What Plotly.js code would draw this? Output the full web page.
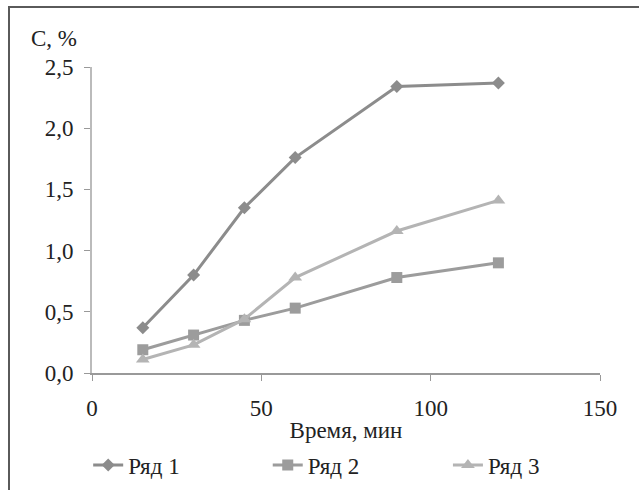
<!DOCTYPE html>
<html><head><meta charset="utf-8">
<script src="https://cdn.plot.ly/plotly-3.0.1.min.js"></script>
<style>
html,body{margin:0;padding:0;background:#fff;}
#frame{position:absolute;left:8px;top:6px;width:640px;height:490px;border-top:2px solid #5a5a5a;border-left:2px solid #5a5a5a;}
#chart{position:absolute;left:0;top:0;width:639px;height:490px;}
</style></head>
<body>
<div id="frame"></div>
<div id="chart"></div>
<script>
const timeMin = [15, 30, 45, 60, 90, 120];
const row1 = [0.37, 0.80, 1.35, 1.76, 2.34, 2.37];
const row2 = [0.19, 0.31, 0.43, 0.53, 0.78, 0.90];
const row3 = [0.11, 0.23, 0.44, 0.78, 1.16, 1.41];
const seriesNames = ['Ряд 1', 'Ряд 2', 'Ряд 3'];
const xTicks = [0, 50, 100, 150];
const yTicks = [0, 0.5, 1.0, 1.5, 2.0, 2.5];

const font = {family: 'Liberation Serif, DejaVu Serif, serif', color: '#222'};
const fs = 23;
function tr(y, name, color, symbol, size, lg) {
  return {x: timeMin, y: y, name: name, type: 'scatter', mode: 'lines+markers', legend: lg,
    line: {color: color, width: 3}, marker: {symbol: symbol, size: size, color: color}};
}
const data = [
  tr(row1, seriesNames[0], '#8c8c8c', 'diamond', 10, 'legend'),
  tr(row2, seriesNames[1], '#9c9c9c', 'square', 11, 'legend2'),
  tr(row3, seriesNames[2], '#b4b4b4', 'triangle-up', 12, 'legend3')
];
function lg(x) {
  return {orientation: 'h', xref: 'container', x: x, xanchor: 'left', yref: 'container', y: 0.051,
    yanchor: 'middle', font: Object.assign({size: fs}, font), bgcolor: 'rgba(0,0,0,0)'};
}
const layout = {
  width: 639, height: 490,
  paper_bgcolor: 'rgba(0,0,0,0)', plot_bgcolor: 'rgba(0,0,0,0)',
  margin: {l: 92, r: 39, t: 67, b: 117},
  separators: ', ',
  font: Object.assign({size: fs}, font),
  showlegend: true,
  legend: lg(0.138), legend2: lg(0.419), legend3: lg(0.701),
  xaxis: {range: [0, 150], tickvals: xTicks, ticks: 'outside', ticklen: 6, tickcolor: '#999',
    showline: true, linecolor: '#999', linewidth: 2, showgrid: false, zeroline: false,
    ticklabelstandoff: 7, automargin: false,
    tickfont: Object.assign({size: fs}, font),
    title: {text: 'Время, мин', font: Object.assign({size: fs}, font), standoff: 12}},
  yaxis: {range: [0, 2.5], tickvals: yTicks, tickformat: '.1f', ticks: 'outside', ticklen: 6, tickcolor: '#999',
    showline: true, linecolor: '#bbb', linewidth: 2, showgrid: false, zeroline: false,
    ticklabelstandoff: 6, automargin: false,
    tickfont: Object.assign({size: fs}, font)},
  annotations: [{text: 'C, %', xref: 'paper', yref: 'paper', x: -0.124, y: 1.045,
    xanchor: 'left', yanchor: 'bottom', showarrow: false, font: Object.assign({size: fs}, font)}]
};
Plotly.newPlot('chart', data, layout, {displayModeBar: false, staticPlot: true});
</script>
</body></html>
